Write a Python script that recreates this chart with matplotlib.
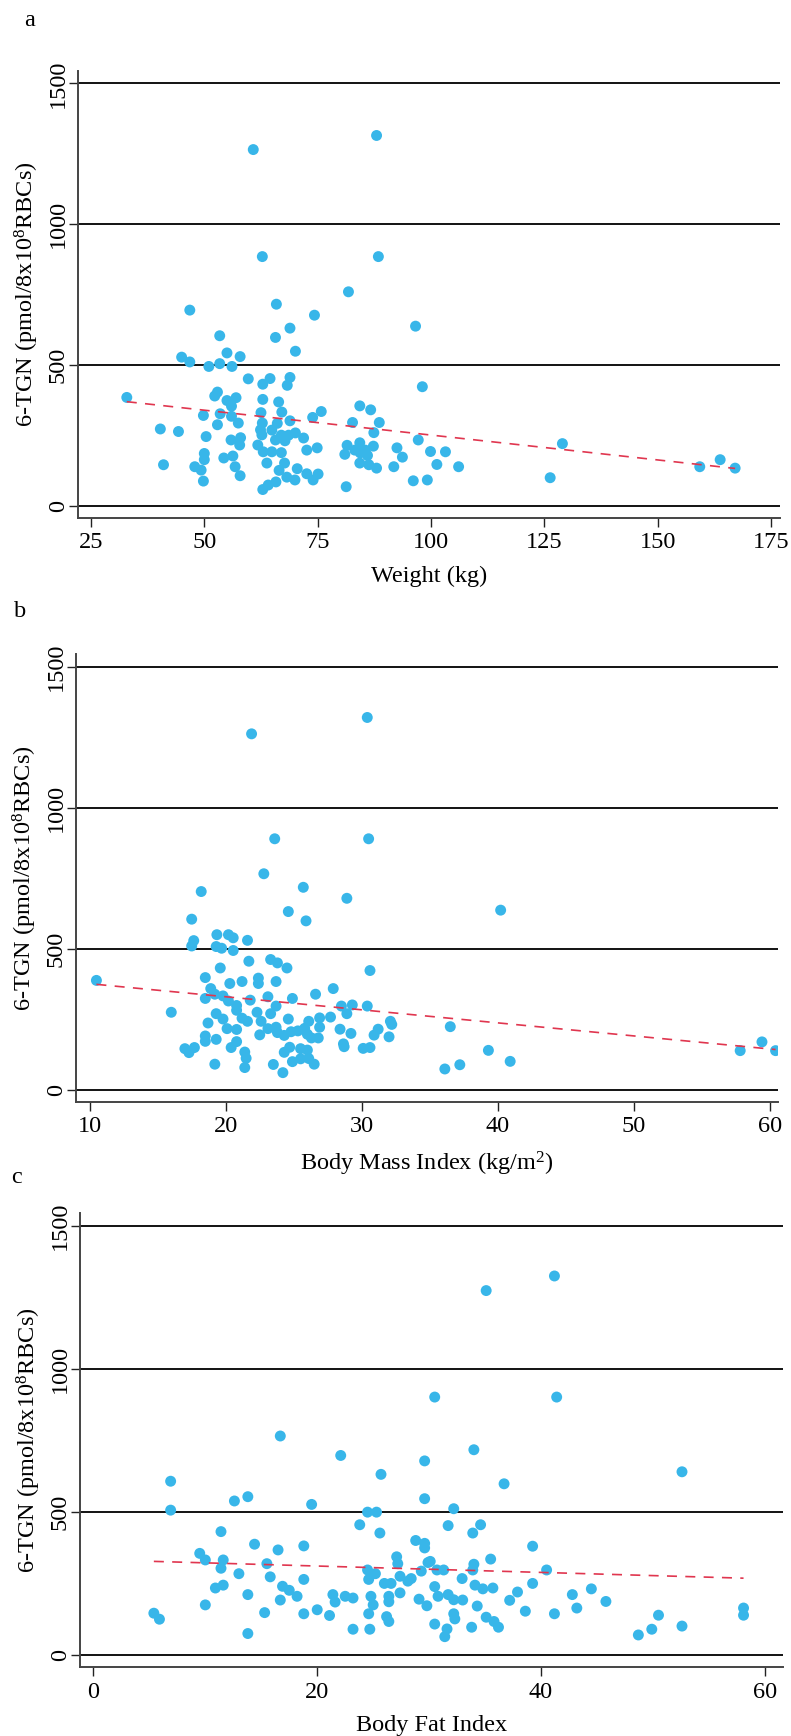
import numpy as np
import matplotlib
matplotlib.use("Agg")
import matplotlib.pyplot as plt

plt.rcParams['font.family'] = ['Liberation Serif', 'DejaVu Serif']
plt.rcParams['mathtext.fontset'] = 'custom'
plt.rcParams['mathtext.rm'] = 'Liberation Serif'

# panel a: weight (kg) vs 6-TGN
weight = [60.8, 88.0, 62.8, 88.4, 81.8,
          46.8, 65.9, 74.3, 96.6, 68.9, 53.4, 65.7, 70.1, 55.0, 45.0, 57.9, 46.8, 51.0, 53.4, 56.1,
          59.7, 64.5, 68.9, 62.9, 68.3, 98.1, 52.9, 52.3, 57.0, 62.9, 32.9, 55.0, 56.0, 66.4, 67.1,
          84.3, 86.7, 75.8, 62.5, 49.8, 53.5, 56.0, 73.9,
          52.9, 57.5, 62.8, 66.1, 68.9, 82.7, 88.6, 62.4, 64.9, 70.1, 87.4, 40.3, 44.3, 50.4, 62.7,
          67.0, 68.6, 71.9, 55.9, 58.0, 57.8, 61.8, 65.7, 67.8, 97.2, 81.5, 84.3, 87.3,
          63.0, 64.9, 67.0, 72.6, 74.9, 81.0, 83.2, 84.4, 85.5, 86.0, 92.5, 93.7, 99.9, 103.2, 50.0,
          50.0, 56.3, 54.3,
          63.8, 67.7, 84.3, 86.3, 88.0, 91.8, 101.3, 106.1, 41.0, 47.9, 49.3, 56.8, 66.5, 70.5,
          49.8, 57.9, 68.2, 70.0, 72.6, 74.0, 75.1, 62.9, 64.1, 65.8, 81.3, 96.1, 99.2,
          129.0, 126.3, 159.3, 163.8, 167.1]
tgn_a = [1265, 1315, 885, 885, 760,
         695, 716, 677, 638, 631, 604, 598, 549, 543, 528, 530, 511, 495, 505, 495,
         451, 452, 456, 432, 428, 423, 404, 390, 384, 378, 385, 374, 354, 369, 333,
         355, 341, 335, 331, 321, 327, 318, 314,
         288, 294, 294, 293, 302, 296, 296, 270, 269, 259, 260, 273, 264, 246, 252,
         251, 251, 241, 234, 242, 216, 216, 234, 231, 234, 215, 224, 212,
         192, 192, 189, 198, 206, 183, 198, 188, 198, 179, 206, 173, 193, 192, 186,
         164, 177, 170,
         152, 152, 152, 146, 134, 139, 147, 139, 146, 139, 127, 139, 126, 132,
         88, 107, 102, 92, 114, 92, 113, 58, 74, 85, 68, 89, 92,
         221, 100, 139, 164, 134]

# panel b: body mass index vs 6-TGN
bmi = [21.9, 30.4,
       23.6, 30.5, 22.8, 25.7, 18.2, 28.9, 24.6, 25.9, 17.5, 19.35, 20.2, 20.55, 21.6, 17.65, 17.5,
       19.3, 19.7, 20.55, 21.7, 23.3, 23.8, 24.5, 30.6, 19.6, 18.5, 22.4, 22.4, 23.7, 21.2, 20.3,
       10.5, 27.9, 26.6, 18.9, 19.2, 18.5, 19.8, 20.2, 20.8, 21.8, 23.1, 24.9, 23.7, 28.5, 29.3,
       28.9, 30.4, 16.0, 20.8, 19.3, 19.8, 18.7, 21.2, 21.6, 22.3, 23.3, 22.6, 24.6, 26.9, 27.7,
       26.1, 26.9, 28.4, 29.2, 32.1, 32.2, 31.2, 30.9, 32.0, 20.1, 20.8, 22.5, 23.1, 23.7, 23.8,
       24.3, 24.8, 25.3, 25.8, 26.0, 26.3, 26.8, 18.5, 18.5, 19.3, 17.0, 17.3, 17.7, 20.4, 20.8,
       21.4, 21.5, 21.4, 19.2, 23.5, 24.2, 24.3, 24.7, 24.9, 25.5, 25.5, 26.0, 26.1, 26.5, 28.65,
       28.7, 30.1, 30.6, 36.1,
       40.2, 36.5, 37.2, 39.3, 40.9, 57.8, 59.4, 60.4]
tgn_b = [1262, 1320,
         890, 890, 766, 718, 703, 679, 632, 599, 605, 550, 550, 539, 530, 529, 510,
         508, 502, 494, 456, 462, 450, 432, 423, 432, 398, 396, 377, 384, 384, 377,
         388, 359, 339, 359, 339, 324, 333, 315, 299, 318, 330, 324, 297, 297, 301,
         270, 297, 275, 282, 270, 251, 237, 254, 243, 275, 270, 243, 251, 255, 258,
         243, 222, 215, 200, 243, 232, 215, 194, 188, 217, 214, 195, 217, 222, 203,
         193, 206, 209, 218, 197, 184, 184, 191, 172, 179, 146, 132, 150, 150, 171,
         134, 112, 79, 91, 90, 61, 133, 151, 100, 146, 110, 141, 111, 91, 163,
         153, 147, 150, 74,
         637, 224, 89, 140, 101, 139, 170, 139]

# panel c: body fat index vs 6-TGN
bfi = [35.1, 41.2,
       30.5, 41.4, 16.7, 22.1, 29.6, 34.0, 25.7, 52.6, 6.9, 36.7, 29.6, 13.8, 12.6, 19.5, 6.9, 24.5,
       25.3, 32.2, 23.8, 31.7, 34.6, 25.6, 33.9, 11.4, 28.8, 29.6, 29.6, 14.4, 16.5, 18.8, 39.25,
       9.5, 10.0, 11.6, 11.4, 15.5, 13.0, 15.8, 27.1, 27.2, 29.9, 30.1, 35.5, 34.0, 33.9, 40.5,
       24.5, 25.2, 24.6, 29.3, 30.7, 31.3, 27.4, 28.1, 28.4, 26.0, 26.6, 18.8, 32.95, 10.9, 11.6,
       16.9, 17.5, 18.2, 13.8, 16.7, 21.4, 21.6, 22.5, 23.2, 24.8, 25.0, 26.4, 26.4, 27.4, 29.1,
       29.8, 30.5, 30.8, 31.7, 32.2, 34.1, 34.8, 35.7, 39.25, 33.0, 37.2, 37.9, 34.3, 42.8, 44.5,
       43.2, 45.8, 41.2, 38.6,
       10.0, 15.3, 18.8, 20.0, 21.1, 24.6, 26.2, 26.4, 30.5, 32.2, 32.3, 31.6, 31.4, 5.4, 5.9,
       13.8, 23.2, 24.7,
       33.8, 35.1, 35.8, 36.2, 48.7, 49.9, 50.5, 52.6, 58.1, 58.1]
tgn_c = [1274, 1325,
         902, 902, 766, 698, 679, 718, 632, 641, 608, 599, 547, 554, 539, 527, 507, 500,
         500, 512, 456, 453, 456, 427, 427, 432, 401, 391, 375, 388, 368, 382, 381,
         356, 333, 333, 304, 320, 285, 274, 344, 320, 324, 328, 336, 318, 298, 298,
         298, 285, 265, 294, 298, 298, 276, 259, 268, 251, 251, 265, 268, 235, 245,
         241, 227, 206, 212, 193, 212, 186, 206, 200, 206, 176, 206, 187, 218, 196,
         173, 240, 206, 212, 194, 245, 232, 235, 251, 193, 192, 221, 172, 212, 232,
         165, 188, 145, 154,
         176, 149, 145, 159, 139, 145, 135, 118, 109, 145, 127, 92, 65, 147, 126,
         76, 91, 91,
         98, 133, 118, 98, 71, 91, 140, 102, 165, 140]

# fitted lines: (intercept, slope)
fit_a = (428.0, -1.766)
fit_b = (422.6, -4.63)
fit_c = (334.0, -1.113)

ylab = r'6-TGN (pmol/8x10$\mathregular{^8}$RBCs)'
panels = [
    ('a', weight, tgn_a, fit_a, 'Weight (kg)', [25, 50, 75, 100, 125, 150, 175], (22.07, 177.0),
     [77.7, 70.7, 780.0, 517.7], (24, 26)),
    ('b', bmi, tgn_b, fit_b, r'Body Mass Index (kg/m$\mathregular{^2}$)', [10, 20, 30, 40, 50, 60],
     (9.0, 60.6), [76.0, 654.0, 778.3, 1101.7], (14, 617)),
    ('c', bfi, tgn_c, fit_c, 'Body Fat Index', [0, 20, 40, 60], (-1.2, 61.6),
     [80.0, 1213.0, 782.7, 1667.3], (11, 1183)),
]

W, H = 791, 1736
fig = plt.figure(figsize=(W / 100, H / 100), dpi=100)
dot = '#38B6E9'
red = '#E0364F'
fs = 17.5

for letter, x, y, fit, xlab, xt, xl, box, lpos in panels:
    l, t, r, b = box
    ax = fig.add_axes([l / W, 1 - b / H, (r - l) / W, (b - t) / H])
    for yv in [0, 500, 1000, 1500]:
        ax.axhline(yv, color='black', lw=1.3, zorder=1)
    ax.scatter(x, y, s=62, color=dot, edgecolors='none', zorder=3)
    xs = np.array([min(x), max(x)])
    ax.plot(xs, fit[0] + fit[1] * xs, color=red, lw=1.2, dashes=(6, 5), zorder=4)
    ax.set_xlim(*xl)
    ax.set_ylim(-42, 1545)
    ax.set_xticks(xt)
    ax.set_yticks([0, 500, 1000, 1500])
    for s in ['top', 'right']:
        ax.spines[s].set_visible(False)
    for s in ['left', 'bottom']:
        ax.spines[s].set_color('#444444')
        ax.spines[s].set_linewidth(1.4)
    ax.tick_params(axis='both', direction='out', length=6.5, width=1.0, color='#222222',
                   labelsize=fs)
    ax.tick_params(axis='y', pad=0)
    ax.tick_params(axis='x', pad=4)
    for lab in ax.get_yticklabels():
        lab.set_rotation(90)
        lab.set_va('center')
    ax.set_xlabel(xlab, fontsize=fs, labelpad=9)
    ax.set_ylabel(ylab, fontsize=fs, labelpad=5)
    fig.text(lpos[0] / W, 1 - lpos[1] / H, letter, fontsize=fs, ha='left', va='baseline')

fig.savefig('out.png', dpi=100, facecolor='white')
